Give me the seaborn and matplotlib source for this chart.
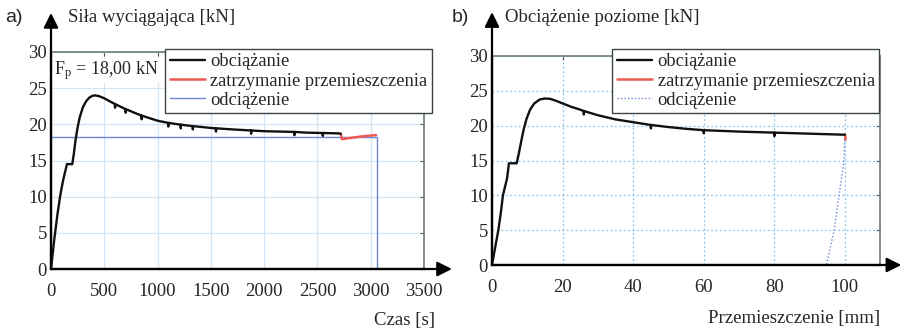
import seaborn as sns
import matplotlib
matplotlib.use('Agg')
import matplotlib.pyplot as plt
import numpy as np
import pandas as pd

# ---- panel a) : pull-out force vs time ----
t_load = [0, 30, 60, 85, 110, 130, 150, 200, 215, 230, 250, 270, 300, 330, 360, 390, 415, 450, 500, 550,
          600, 601, 602, 700, 701, 702, 800, 850, 851, 852, 1000, 1100, 1101, 1102,
          1217, 1218, 1219, 1330, 1331, 1332, 1405, 1500, 1547, 1548, 1549, 1700,
          1877, 1878, 1879, 2000, 2283, 2284, 2285, 2400, 2550, 2551, 2552, 2700, 2720]
F_load = [0, 4.0, 7.5, 10.0, 12.0, 13.3, 14.5, 14.5, 16.0, 17.8, 19.6, 21.0, 22.4, 23.2, 23.7, 23.95, 24.0, 23.9, 23.6, 23.2,
          22.8, 22.3, 22.8, 22.1, 21.6, 22.1, 21.5, 21.2, 20.7, 21.2, 20.5, 20.2, 19.7, 20.2,
          19.95, 19.45, 19.95, 19.75, 19.3, 19.75, 19.65, 19.5, 19.45, 19.0, 19.45, 19.3,
          19.15, 18.7, 19.15, 19.05, 18.95, 18.5, 18.95, 18.85, 18.8, 18.4, 18.8, 18.75, 18.7]
t_hold = [2720, 2730, 2800, 2900, 3000, 3050]
F_hold = [18.6, 17.95, 18.1, 18.3, 18.45, 18.5]
t_unload = [0, 3060, 3060]
F_unload = [18.2, 18.2, 0]
Fp_text = r'F$_\mathrm{p}$ = 18,00 kN'

# ---- panel b) : horizontal load vs displacement ----
d_load = [0, 1.0, 1.8, 2.5, 3.1, 4.3, 4.8, 7.0, 7.6, 8.3, 9.0, 9.8, 10.8, 12.0, 13.5, 15.0, 16.5, 18.0, 20, 22.5, 25,
          26, 26.05, 26.1, 30, 35, 40, 45, 45.05, 45.1, 50, 55, 60, 60.05, 60.1, 70, 80,
          80.05, 80.1, 90, 100]
P_load = [0, 2.8, 5.0, 7.5, 10.0, 12.5, 14.6, 14.6, 16.0, 17.8, 19.5, 21.0, 22.3, 23.2, 23.75, 23.9, 23.85, 23.6, 23.2, 22.7, 22.3,
          22.1, 21.6, 22.1, 21.5, 20.9, 20.5, 20.1, 19.6, 20.1, 19.8, 19.55, 19.35, 18.9, 19.35, 19.15, 19.0,
          18.5, 19.0, 18.85, 18.7]
d_hold = [100, 100.2, 100.2]
P_hold = [18.7, 18.6, 18.0]
d_unload = [100, 99.8, 98.4, 97.0, 94.8]
P_unload = [18.5, 15.0, 10.0, 5.0, 0.0]

labels = ['obciążanie', 'zatrzymanie przemieszczenia', 'odciążenie']
c_black, c_red, c_blue = '#111111', '#ee5a4f', '#6f86df'

sns.set_style('white')
plt.rcParams['font.family'] = ['Liberation Serif', 'DejaVu Serif']
plt.rcParams['mathtext.fontset'] = 'custom'
plt.rcParams['mathtext.rm'] = 'Liberation Serif'
plt.rcParams['mathtext.it'] = 'Liberation Serif'

fig = plt.figure(figsize=(9, 3.3), dpi=100)
ax1 = fig.add_axes([51/900, 1-269/330, 373/900, 217/330])
ax2 = fig.add_axes([492/900, 1-265/330, 388/900, 209/330])


def draw(ax, x1, y1, x2, y2, x3, y3, ls3):
    kw = dict(estimator=None, sort=False, ax=ax)
    sns.lineplot(x=x1, y=y1, color=c_black, lw=1.7, label=labels[0], zorder=4, **kw)
    sns.lineplot(x=x2, y=y2, color=c_red, lw=1.8, label=labels[1], zorder=3, **kw)
    sns.lineplot(x=x3, y=y3, color=c_blue, lw=1.0, ls=ls3, label=labels[2], zorder=2, **kw)


draw(ax1, t_load, F_load, t_hold, F_hold, t_unload, F_unload, '-')
draw(ax2, d_load, P_load, d_hold, P_hold, d_unload, P_unload, (0, (1, 1.5)))

ax1.set_xlim(0, 3500)
ax1.set_xticks(np.arange(0, 3501, 500))
ax2.set_xlim(0, 110)
ax2.set_xticks(np.arange(0, 101, 20))
for ax in (ax1, ax2):
    ax.set_ylim(0, 30)
    ax.set_yticks(np.arange(0, 31, 5))
    ax.set_xlabel('')
    ax.set_ylabel('')
    ax.tick_params(direction='in', length=3, top=True, right=True, labelsize=13.5,
                   color='#555555')
    ax.tick_params(axis='x', pad=10)
    ax.tick_params(axis='y', pad=3)
    for s in ('top', 'right'):
        ax.spines[s].set_color('#6b7b7b')
        ax.spines[s].set_linewidth(1.2)
    for s in ('left', 'bottom'):
        ax.spines[s].set_color('k')
        ax.spines[s].set_linewidth(1.6)
    ax.set_axisbelow(True)

ax1.grid(True, color='#d3e5f4', lw=0.9, ls='-')
ax2.grid(True, color='#8cc3ea', lw=0.9, ls=(0, (1.5, 2)))

# arrows on the axes
for ax, ytip, xtip in ((ax1, 1.18, 1.075), (ax2, 1.21, 1.055)):
    ax.annotate('', xy=(0, ytip), xytext=(0, 0), xycoords='axes fraction',
                arrowprops=dict(arrowstyle='-|>', mutation_scale=22, color='k', lw=1.6,
                                shrinkA=0, shrinkB=0), annotation_clip=False)
    ax.annotate('', xy=(xtip, 0), xytext=(0, 0), xycoords='axes fraction',
                arrowprops=dict(arrowstyle='-|>', mutation_scale=22, color='k', lw=1.6,
                                shrinkA=0, shrinkB=0), annotation_clip=False)

leg_kw = dict(loc='upper left', fontsize=13.3, handlelength=1.9, handletextpad=0.3,
              labelspacing=0.12, borderpad=0.25, borderaxespad=0, frameon=True,
              fancybox=False, framealpha=1)
lg1 = ax1.legend(bbox_to_anchor=(0.306, 1.015), **leg_kw)
lg2 = ax2.legend(bbox_to_anchor=(0.31, 1.035), **leg_kw)
for lg in (lg1, lg2):
    lg.get_frame().set_edgecolor('#3a4646')
    lg.get_frame().set_linewidth(1.0)
    lg.set_zorder(10)

ax1.text(0.008, 0.915, Fp_text, transform=ax1.transAxes, fontsize=13, va='center',
         ha='left', zorder=6, bbox=dict(facecolor='white', edgecolor='none', pad=1))

fig.text(5/900, 1-18/330, 'a)', family='Liberation Sans', fontsize=14, va='center')
fig.text(68/900, 1-18/330, 'Siła wyciągająca [kN]', fontsize=13.5, va='center')
fig.text(435/900, 1-320/330, 'Czas [s]', fontsize=13.5, va='center', ha='right')
fig.text(452/900, 1-18/330, 'b)', family='Liberation Sans', fontsize=14, va='center')
fig.text(505/900, 1-18/330, 'Obciążenie poziome [kN]', fontsize=13.5, va='center')
fig.text(880/900, 1-318/330, 'Przemieszczenie [mm]', fontsize=13.5, va='center', ha='right')

fig.savefig('out.png', dpi=100)
